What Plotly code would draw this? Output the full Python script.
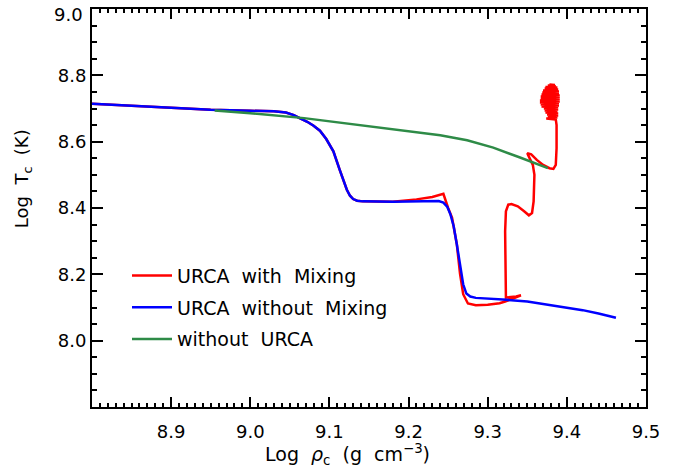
import plotly.graph_objects as go

# URCA with Mixing (red)
red_x = [8.80, 8.90, 8.95, 9.00, 9.03, 9.045, 9.055, 9.063, 9.072, 9.080, 9.088, 9.096, 9.105, 9.113, 9.118,
         9.122, 9.126, 9.130, 9.135, 9.142, 9.18, 9.19, 9.21, 9.23, 9.244, 9.250, 9.255, 9.261, 9.265,
         9.269, 9.275, 9.285,
         9.30, 9.315, 9.322, 9.335, 9.342, 9.336, 9.323, 9.322, 9.322, 9.323, 9.326, 9.33, 9.338, 9.346,
         9.352, 9.356, 9.358, 9.359, 9.357, 9.352, 9.350, 9.355, 9.362, 9.370, 9.378, 9.383, 9.386,
         9.387, 9.387, 9.386,
         9.374, 9.388, 9.376, 9.389, 9.375, 9.389, 9.373, 9.388, 9.372, 9.389, 9.371, 9.389,
         9.368, 9.390, 9.367, 9.390, 9.366, 9.391, 9.366, 9.391, 9.367, 9.391, 9.367, 9.391,
         9.368, 9.390, 9.369, 9.390, 9.370, 9.389, 9.372, 9.388, 9.373, 9.386, 9.376, 9.385, 9.378, 9.383]
red_y = [8.714, 8.703, 8.696, 8.693, 8.692, 8.688, 8.680, 8.670, 8.660, 8.648, 8.633, 8.608, 8.571, 8.515, 8.480,
         8.455, 8.437, 8.427, 8.422, 8.420, 8.419, 8.421, 8.426, 8.433, 8.443, 8.400, 8.370, 8.290, 8.202,
         8.140, 8.112, 8.107,
         8.108, 8.113, 8.118, 8.130, 8.137, 8.133, 8.130, 8.250, 8.330, 8.390, 8.410, 8.412, 8.405, 8.390,
         8.378, 8.385, 8.420, 8.500, 8.530, 8.555, 8.565, 8.562, 8.545, 8.530, 8.520, 8.518, 8.530,
         8.580, 8.650, 8.667,
         8.670, 8.673, 8.676, 8.679, 8.682, 8.685, 8.688, 8.691, 8.694, 8.697, 8.700, 8.703,
         8.706, 8.709, 8.712, 8.715, 8.718, 8.721, 8.724, 8.727, 8.730, 8.733, 8.736, 8.739,
         8.742, 8.745, 8.748, 8.751, 8.754, 8.757, 8.760, 8.763, 8.765, 8.767, 8.769, 8.771, 8.772, 8.770]

# URCA without Mixing (blue)
blue_x = [8.80, 8.90, 8.95, 9.00, 9.03, 9.045, 9.055, 9.063, 9.072, 9.080, 9.088, 9.096, 9.105, 9.113, 9.118,
          9.122, 9.126, 9.130, 9.135, 9.142, 9.18, 9.22, 9.238, 9.244, 9.249, 9.253, 9.257, 9.261, 9.265,
          9.269, 9.273, 9.278, 9.285, 9.30, 9.319, 9.35, 9.383, 9.42, 9.44, 9.462]
blue_y = [8.714, 8.703, 8.696, 8.693, 8.692, 8.688, 8.680, 8.670, 8.660, 8.648, 8.633, 8.608, 8.571, 8.515, 8.480,
          8.455, 8.437, 8.427, 8.422, 8.420, 8.419, 8.421, 8.421, 8.416, 8.403, 8.380, 8.345, 8.290, 8.225,
          8.170, 8.142, 8.133, 8.129, 8.127, 8.124, 8.118, 8.106, 8.092, 8.082, 8.069]

# without URCA (green)
green_x = [8.955, 9.00, 9.068, 9.12, 9.185, 9.24, 9.274, 9.307, 9.34, 9.36, 9.376]
green_y = [8.694, 8.686, 8.671, 8.655, 8.634, 8.619, 8.604, 8.582, 8.553, 8.535, 8.520]

x_ticks = [8.9, 9.0, 9.1, 9.2, 9.3, 9.4, 9.5]
y_ticks = [8.0, 8.2, 8.4, 8.6, 8.8]
y_top_label = 9.0

FONT = "DejaVu Sans"
NB = "\u00a0"
fig = go.Figure()
fig.add_trace(go.Scatter(x=red_x, y=red_y, mode="lines", name=f"URCA{NB} with{NB} Mixing",
                         legendgroup="a", line=dict(color="#ff0000", width=2.5)))
fig.add_trace(go.Scatter(x=blue_x, y=blue_y, mode="lines", name=f"URCA{NB} without{NB} Mixing",
                         legendgroup="b", line=dict(color="#0000ff", width=2.5)))
fig.add_trace(go.Scatter(x=green_x, y=green_y, mode="lines", name=f"without{NB} URCA",
                         legendgroup="c", line=dict(color="#2e8b47", width=2.5)))

axis_common = dict(showline=True, linecolor="black", linewidth=2, mirror="ticks", ticks="inside",
                   tickcolor="black", tickwidth=2, showgrid=False, zeroline=False,
                   tickfont=dict(family=FONT, size=18, color="black"))
fig.update_xaxes(range=[8.8, 9.5], tickvals=x_ticks, ticktext=[f"{v:.1f}" for v in x_ticks], ticklen=10,
                 minor=dict(tick0=8.8, dtick=0.01, ticklen=4, ticks="inside", tickcolor="black", tickwidth=1.5),
                 ticklabelstandoff=7, **axis_common)
fig.update_yaxes(range=[7.8, 9.0], tickvals=y_ticks + [y_top_label],
                 ticktext=[f"{v:.1f}" for v in y_ticks] + [""], ticklen=11,
                 minor=dict(tick0=7.8, dtick=0.05, ticklen=5, ticks="inside", tickcolor="black", tickwidth=1.5),
                 ticklabelstandoff=0, **axis_common)

fig.add_annotation(text=f"{y_top_label:.1f}", xref="paper", yref="paper", x=(85 - 92) / 554,
                   y=(407 - 13) / 400, xanchor="right", yanchor="middle", showarrow=False,
                   font=dict(family=FONT, size=18, color="black"))
fig.add_annotation(text=f"Log{NB} <i>ρ</i><sub>c</sub>{NB} (g{NB} cm<sup>−3</sup>)", xref="paper", yref="paper",
                   x=(347 - 92) / 554, y=(407 - 455) / 400, xanchor="center", yanchor="middle", showarrow=False,
                   font=dict(family=FONT, size=19, color="black"))
fig.add_annotation(text=f"Log{NB} T<sub>c</sub>{NB} (K)", xref="paper", yref="paper", textangle=-90,
                   x=(23 - 92) / 554, y=(407 - 178) / 400, xanchor="center", yanchor="middle", showarrow=False,
                   font=dict(family=FONT, size=18, color="black"))

fig.update_layout(width=684, height=472, margin=dict(l=92, r=38, t=7, b=65),
                  plot_bgcolor="white", paper_bgcolor="white",
                  legend=dict(x=(127 - 92) / 554, y=(407 - 256) / 400, xanchor="left", yanchor="top",
                              bgcolor="rgba(0,0,0,0)", font=dict(family=FONT, size=19, color="black"),
                              tracegroupgap=4, itemwidth=40),
                  showlegend=True)

fig.write_html("out.html", post_script="document.body.style.margin='0px';",
               config={"displayModeBar": False})
